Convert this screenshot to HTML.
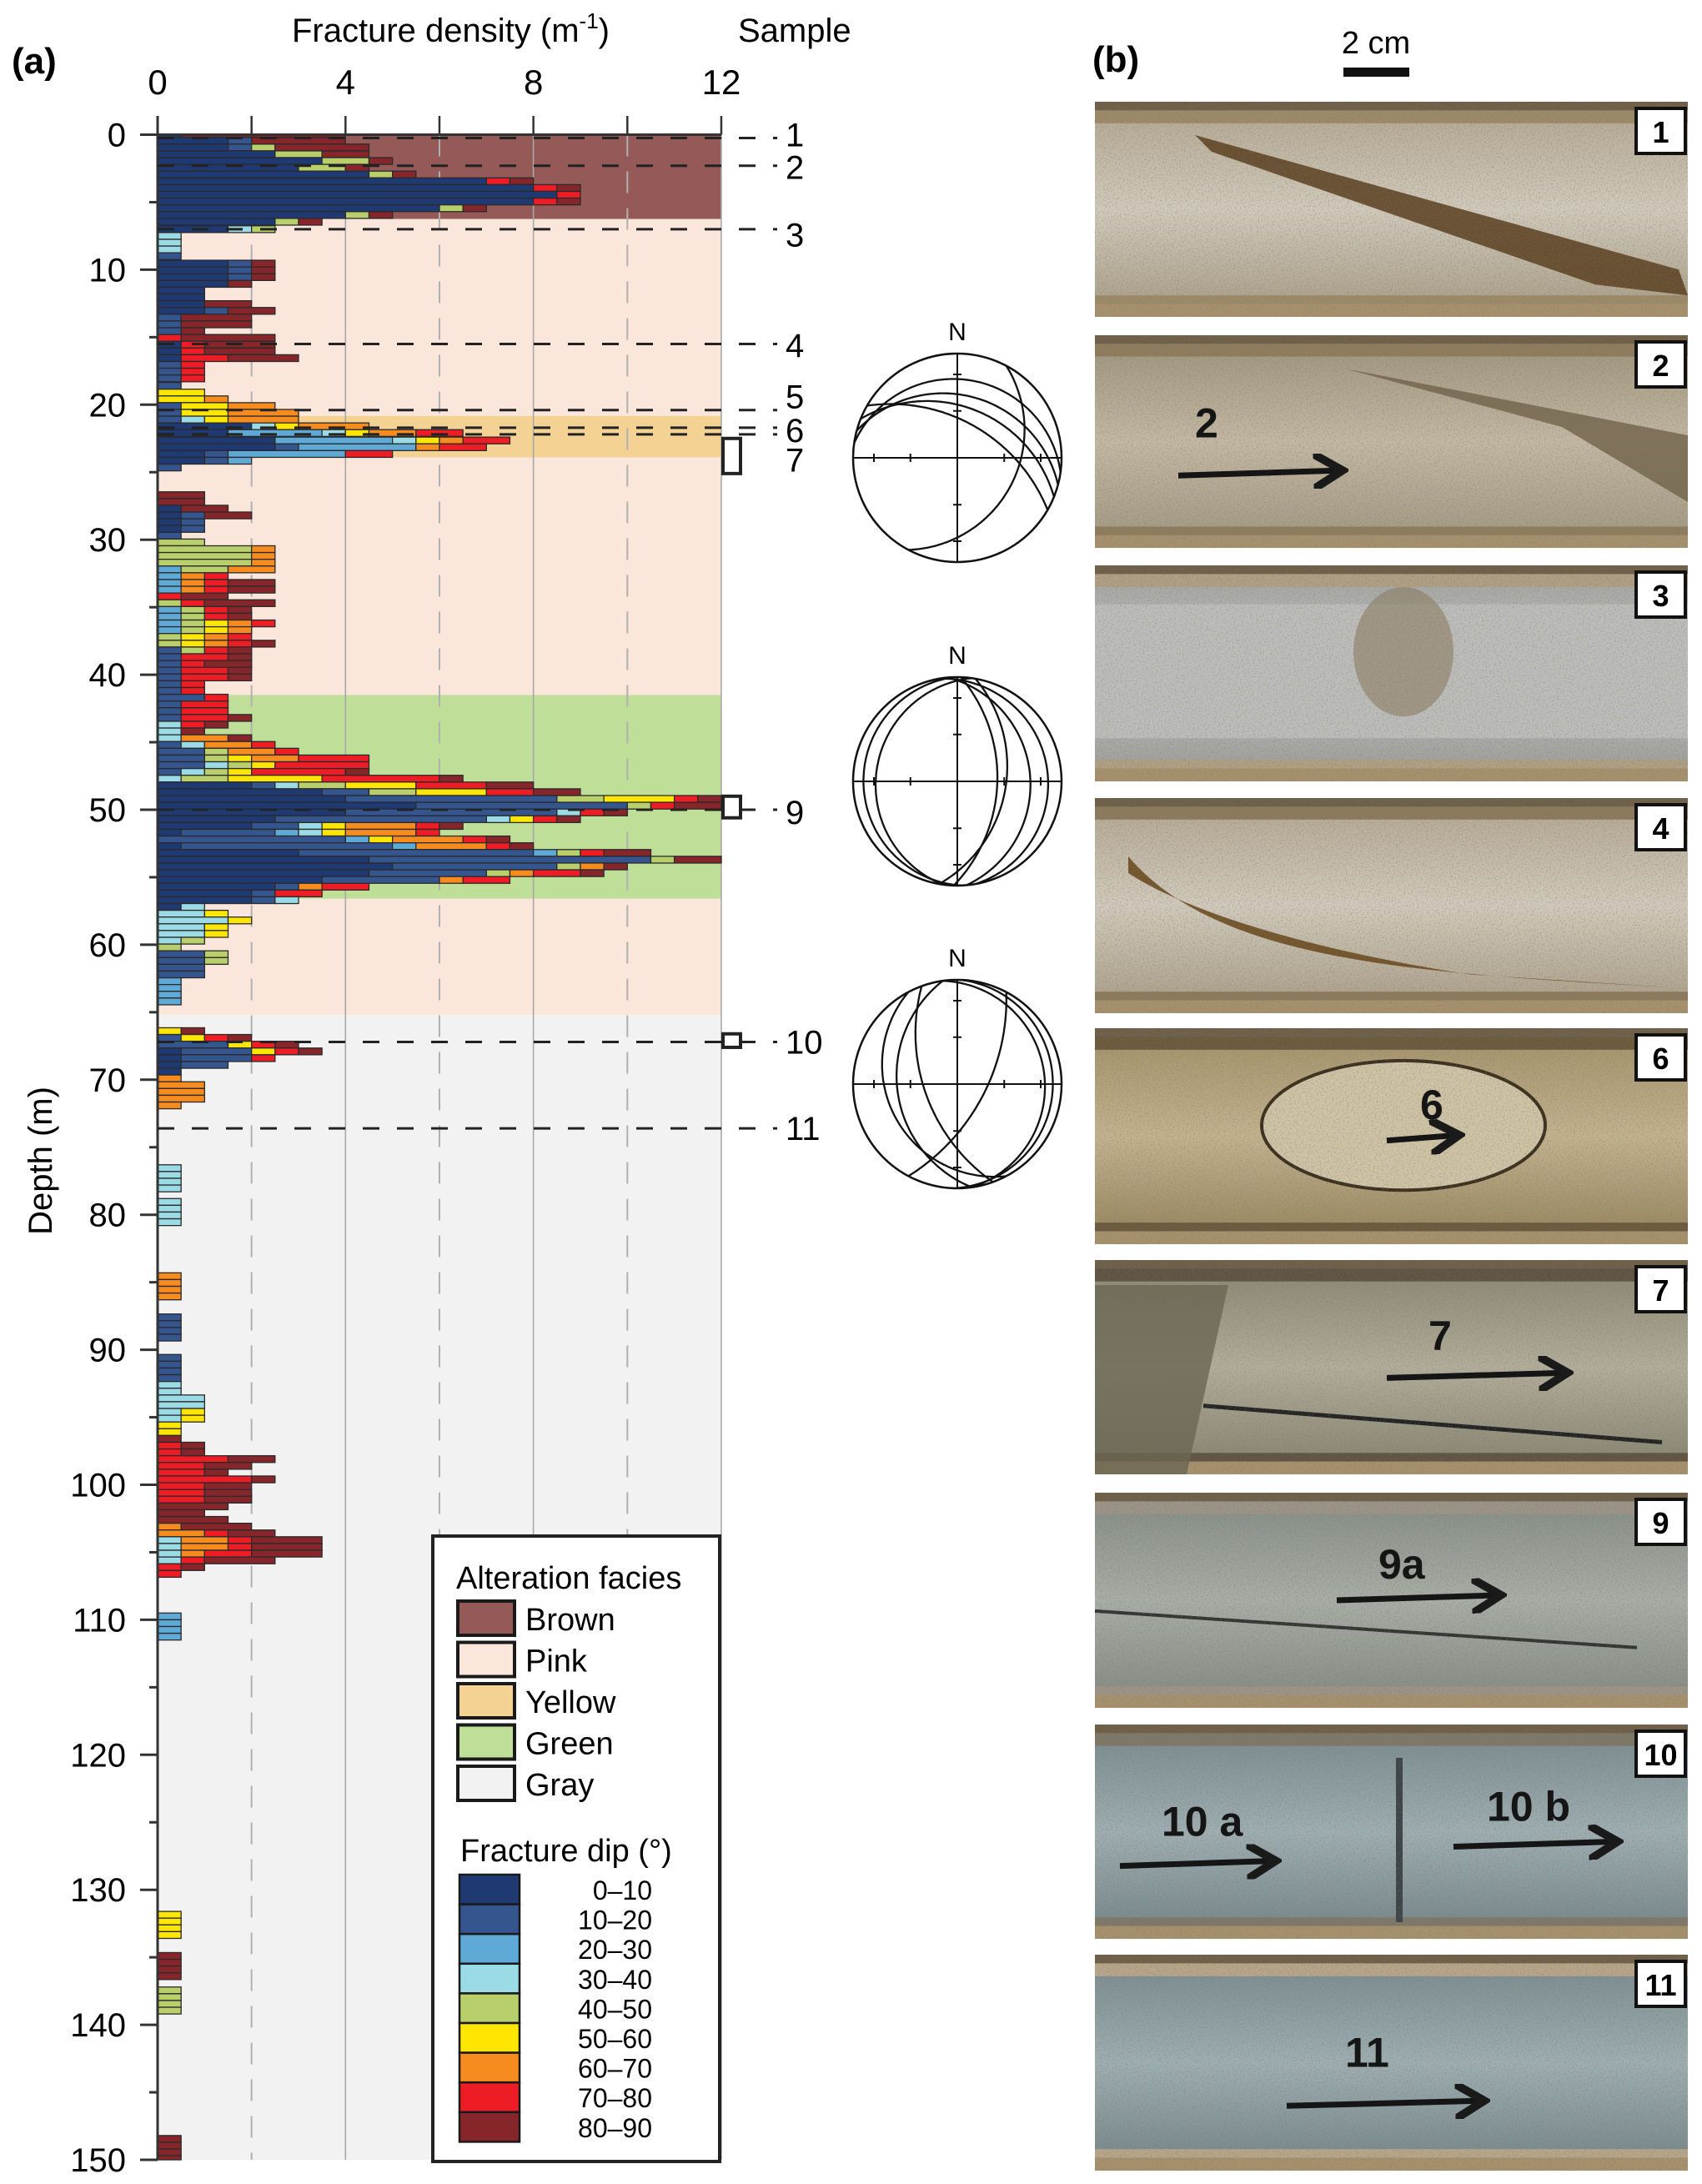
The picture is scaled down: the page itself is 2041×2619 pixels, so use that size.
<!DOCTYPE html>
<html><head><meta charset="utf-8"><style>
html,body{margin:0;padding:0;background:#fff}
svg{display:block;font-family:"Liberation Sans",Arial,sans-serif}
</style></head><body>
<svg id="fig" width="2041" height="2619" viewBox="0 0 2041 2619" xmlns="http://www.w3.org/2000/svg">
<defs>
<linearGradient id="g1" x1="0" y1="0" x2="0" y2="1"><stop offset="0" stop-color="#b9ad98"/><stop offset="0.5" stop-color="#d2cbbd"/><stop offset="1" stop-color="#b0a58f"/></linearGradient>
<linearGradient id="g2" x1="0" y1="0" x2="0" y2="1"><stop offset="0" stop-color="#a59a82"/><stop offset="0.5" stop-color="#c4b9a3"/><stop offset="1" stop-color="#a89d86"/></linearGradient>
<linearGradient id="g3" x1="0" y1="0" x2="0" y2="1"><stop offset="0" stop-color="#a9aaa8"/><stop offset="0.5" stop-color="#c3c4c2"/><stop offset="1" stop-color="#a2a3a0"/></linearGradient>
<linearGradient id="g6" x1="0" y1="0" x2="0" y2="1"><stop offset="0" stop-color="#a8976f"/><stop offset="0.5" stop-color="#c3b48f"/><stop offset="1" stop-color="#9f8c66"/></linearGradient>
<linearGradient id="g7" x1="0" y1="0" x2="0" y2="1"><stop offset="0" stop-color="#8f8c78"/><stop offset="0.5" stop-color="#b3ae9c"/><stop offset="1" stop-color="#8d8a76"/></linearGradient>
<linearGradient id="g9" x1="0" y1="0" x2="0" y2="1"><stop offset="0" stop-color="#8b918b"/><stop offset="0.5" stop-color="#a9aea8"/><stop offset="1" stop-color="#8a8f88"/></linearGradient>
<linearGradient id="g10" x1="0" y1="0" x2="0" y2="1"><stop offset="0" stop-color="#7f9095"/><stop offset="0.5" stop-color="#9fafb3"/><stop offset="1" stop-color="#7c8c90"/></linearGradient>
<filter id="speckle" x="0" y="0" width="100%" height="100%">
<feTurbulence type="fractalNoise" baseFrequency="0.55" numOctaves="2" seed="3" result="n"/>
<feColorMatrix in="n" type="matrix" values="0 0 0 0 0.2  0 0 0 0 0.18  0 0 0 0 0.15  -2.2 0 0 0 1.15"/>
</filter>
<marker id="ah" markerWidth="6" markerHeight="6" refX="4" refY="3" orient="auto"><path d="M0,0 L5,3 L0,6" fill="none" stroke="#1a1a1a" stroke-width="1.4"/></marker>
</defs>
<g id="facies"></g>
<g id="grid"></g>
<g id="bars"></g>
<g id="axes"></g>
<g id="samples"></g>
<g id="nets"></g>
<g id="photos"></g>

<text x="14" y="88" font-size="44" font-weight="bold">(a)</text>
<text x="350" y="50" font-size="40">Fracture density (m<tspan font-size="26" dy="-16">-1</tspan><tspan dy="16">)</tspan></text>
<text x="885" y="50" font-size="40">Sample</text>
<text transform="translate(62,1392) rotate(-90)" text-anchor="middle" font-size="40">Depth (m)</text>
<text x="1310" y="86" font-size="44" font-weight="bold">(b)</text>
<text x="1650" y="64" font-size="38" text-anchor="middle">2 cm</text>
<rect x="1611" y="81" width="79" height="11" fill="#111"/>

<g>
<rect x="519" y="1842" width="344" height="750" fill="#fff" stroke="#222" stroke-width="4"/>
<text x="547" y="1905" font-size="38">Alteration facies</text>
<g id="faciesLegend"></g>
<text x="552" y="2232" font-size="38">Fracture dip (°)</text>
<g id="dipLegend"></g>
</g>

<script>
// ---------- data ----------
const dipColors = ['#1f3a73','#34558e','#5ea9d6','#9adbe6','#b8cf6c','#ffe600','#f68b1f','#ee1c25','#86262a'];
const dipLabels = ['0–10','10–20','20–30','30–40','40–50','50–60','60–70','70–80','80–90'];
const xTicks = [0,4,8,12];
const yTicks = [0,10,20,30,40,50,60,70,80,90,100,110,120,130,140,150];
const faciesNames = ['Brown','Pink','Yellow','Green','Gray'];
const faciesColors = ['#955a58','#fbe6dc','#f3d293','#bfdf98','#f2f2f2'];
const faciesTop =    [0, 6.25, 20.83, 23.9, 41.5, 56.6, 65.2];
const faciesBottom = [6.25, 20.83, 23.9, 41.5, 56.6, 65.2, 150];
const faciesKind =   [0, 1, 2, 1, 3, 1, 4];
const binSize = 0.5;
const binDepth = [
-0.3,0.2,0.7,1.2,1.7,2.2,2.7,3.2,3.7,4.2,4.7,5.2,5.7,6.2,6.75,7.25,7.75,8.25,8.75,9.3,9.8,10.3,10.8,11.3,11.8,12.3,12.8,13.3,13.8,14.3,14.8,15.3,15.8,16.3,16.8,17.3,17.8,18.35,18.85,19.35,19.85,20.35,20.85,21.35,21.85,22.4,22.9,23.4,23.9,24.4,
26.45,26.95,27.45,27.95,28.45,28.95,29.45,29.95,30.45,30.95,31.45,31.95,32.45,32.95,33.45,33.95,34.45,34.95,35.45,35.95,36.45,36.95,37.45,37.95,38.45,38.95,39.45,39.95,40.45,40.95,41.45,41.95,42.45,42.95,43.45,43.95,44.45,44.95,45.45,45.95,46.45,46.95,47.45,47.95,48.45,48.95,49.45,49.95,50.45,50.95,51.45,51.95,52.45,52.95,53.45,53.95,54.45,54.95,55.45,55.95,56.45,56.95,57.45,57.95,58.45,
58.95,59.45,59.95,60.45,60.95,61.45,61.95,62.45,62.95,63.45,63.95,
66.15,66.65,67.15,67.65,68.15,68.65,69.15,69.65,70.15,70.65,71.15,71.65,
76.3,76.8,77.3,77.8,78.8,79.3,79.8,80.3,84.3,84.8,85.3,85.8,87.35,87.85,88.35,88.85,
90.35,90.85,91.35,91.85,92.35,92.85,93.35,93.85,94.35,94.85,95.35,95.85,96.35,96.85,97.35,97.85,98.35,98.85,99.35,99.85,100.35,100.85,101.35,101.85,102.35,102.85,103.35,103.85,104.35,104.85,105.35,105.85,106.35,
109.5,110,110.5,111,131.6,132.1,132.6,133.1,134.65,135.15,135.65,136.15,137.2,137.7,138.2,138.7,148.2,148.7,149.2,149.7];
const binCounts = [
[0.5,0,0,0,0,0,0,0,3.5],[1.5,.5,0,0,0,0,0,0,2],[1.5,.5,0,0,.5,0,0,0,2],[2.5,0,0,0,1,0,0,0,1],[3.5,0,0,0,1,0,0,0,.5],[3,0,0,0,1,0,0,0,.5],[4.5,0,0,0,.5,0,0,0,.5],[7,0,0,0,0,0,0,.5,.5],[8,0,0,0,0,0,0,.5,.5],[8.5,0,0,0,0,0,0,.5,0],[8,0,0,0,0,0,0,.5,.5],[6,0,0,0,.5,0,0,0,.5],[4,0,0,0,.5,0,0,0,.5],[2.5,0,0,0,.5,0,0,0,.5],[1.5,0,0,.5,.5,0,0,0,0],[0,0,0,.5,0,0,0,0,0],[0,0,0,.5,0,0,0,0,0],[0,0,0,.5,0,0,0,0,0],[0,.5,0,0,0,0,0,0,0],[1.5,.5,0,0,0,0,0,0,.5],[1.5,.5,0,0,0,0,0,0,.5],[1.5,.5,0,0,0,0,0,0,.5],[1.5,0,0,0,0,0,0,0,.5],[1,0,0,0,0,0,0,0,0],[1,0,0,0,0,0,0,0,0],[1,0,0,0,0,0,0,0,1],[1,.5,0,0,0,0,0,0,1],[0,.5,0,0,0,0,0,0,1.5],[0,.5,0,0,0,0,0,0,1.5],[0,.5,0,0,0,0,0,0,.5],[0,0,0,0,0,0,0,.5,2],[.5,0,0,0,0,0,0,.5,1.5],[.5,0,0,0,0,0,0,.5,1.5],[.5,0,0,0,0,0,0,1,1.5],[0,.5,0,0,0,0,0,.5,0],[0,.5,0,0,0,0,0,.5,0],[0,.5,0,0,0,0,0,.5,0],[0,.5,0,0,0,0,0,0,0],[0,0,0,0,0,1,0,0,0],[0,0,0,0,0,1,.5,0,0],[0,.5,0,0,0,1,1,0,0],[0,.5,0,0,0,1,1.5,0,0],[0,.5,0,.5,0,.5,1.5,0,0],[2,0,0,.5,0,.5,1.5,0,0],[1.5,0,2,.5,0,.5,1,1,0],[2.5,0,2.5,.5,0,.5,.5,1,0],[2.5,.5,2.5,0,0,0,.5,1,0],[1,.5,2.5,0,0,0,0,1,0],[1,.5,.5,0,0,0,0,0,0],[0,.5,0,0,0,0,0,0,0],
[0,0,0,0,0,0,0,0,1],[0,0,0,0,0,0,0,0,1],[.5,0,0,0,0,0,0,0,1],[.5,.5,0,0,0,0,0,0,1],[.5,.5,0,0,0,0,0,0,0],[.5,.5,0,0,0,0,0,0,0],[0,.5,0,0,0,0,0,0,0],[0,0,0,0,1,0,0,0,0],[0,0,0,0,2,0,.5,0,0],[0,0,0,0,2,0,.5,0,0],[0,0,0,0,2,0,.5,0,0],[0,0,.5,0,1,0,1,0,0],[0,0,.5,0,0,0,.5,.5,0],[0,0,.5,0,0,0,.5,.5,1],[0,0,.5,0,0,0,.5,.5,1],[0,0,0,0,0,0,0,.5,1],[0,0,0,0,.5,0,0,.5,1.5],[0,0,.5,0,.5,0,0,.5,.5],[0,0,.5,0,.5,0,0,.5,.5],[0,0,.5,0,.5,.5,.5,.5,0],[0,0,.5,0,.5,.5,.5,0,0],[0,0,0,0,.5,.5,.5,.5,0],[0,0,0,0,.5,.5,.5,.5,.5],[0,.5,0,0,.5,0,0,.5,.5],[0,.5,0,0,0,0,0,1,.5],[0,.5,0,0,0,0,0,.5,1],[0,.5,0,0,0,0,0,1,.5],[0,.5,0,0,0,0,0,1,.5],[0,.5,0,0,0,0,0,.5,0],[0,.5,0,0,0,0,0,.5,0],[0,1,0,0,0,0,0,.5,0],[0,.5,0,0,0,0,0,1,0],[0,.5,0,0,0,0,0,1,0],[0,.5,0,0,0,0,0,1,.5],[0,0,0,.5,0,0,0,.5,.5],[0,0,0,.5,0,0,0,0,.5],[0,0,0,.5,0,0,1,0,.5],[0,.5,0,.5,0,0,1,.5,0],[0,1,0,0,.5,0,1,.5,0],[0,1,0,0,.5,.5,1,1.5,0],[0,1,0,.5,.5,.5,0,2,0],[0,.5,0,.5,.5,.5,0,2,.5],[0,0,0,.5,1,2,0,2.5,.5],[2,.5,0,.5,1,1.5,0,1.5,1],[3.5,1,0,0,1,1.5,0,1,1],[4,4.5,0,0,1,1.5,0,.5,.5],[5.5,4.5,0,0,.5,0,0,.5,1],[4,4.5,0,.5,0,0,0,.5,.5],[2.5,4.5,0,.5,0,.5,0,.5,.5],[2,1,0,.5,0,.5,1.5,.5,.5],[.5,2,.5,.5,0,.5,1.5,.5,0],[0,4,.5,0,0,.5,1.5,.5,.5],[.5,4.5,.5,0,0,0,1.5,.5,.5],[3,5,.5,0,.5,0,0,.5,1],[4.5,6,0,0,.5,0,0,0,1],[5,3.5,0,0,.5,0,.5,0,.5],[4.5,2.5,0,0,.5,0,.5,1,.5],[3.5,2.5,0,0,0,0,.5,1,0],[2.5,.5,0,0,0,0,.5,1,0],[2,.5,0,0,0,0,0,1,0],[2,.5,0,.5,0,0,0,0,0],[.5,0,0,.5,0,0,0,0,0],[0,0,0,1,0,.5,0,0,0],[0,0,0,1.5,0,.5,0,0,0],[0,0,0,1,0,.5,0,0,0],
[0,0,0,1,0,.5,0,0,0],[0,0,0,.5,.5,0,0,0,0],[0,0,0,0,.5,0,0,0,0],[0,1,0,0,.5,0,0,0,0],[0,1,0,0,.5,0,0,0,0],[0,1,0,0,0,0,0,0,0],[0,1,0,0,0,0,0,0,0],[0,0,.5,0,0,0,0,0,0],[0,0,.5,0,0,0,0,0,0],[0,0,.5,0,0,0,0,0,0],[0,0,.5,0,0,0,0,0,0],
[0,0,0,0,0,.5,0,0,.5],[0,.5,0,0,0,.5,0,.5,.5],[0,1.5,0,0,0,.5,0,.5,.5],[.5,1.5,0,0,0,.5,0,.5,.5],[.5,1.5,0,0,0,0,0,.5,0],[.5,1,0,0,0,0,0,0,0],[.5,0,0,0,0,0,0,0,0],[0,0,0,0,0,0,.5,0,0],[0,0,0,0,0,0,1,0,0],[0,0,0,0,0,0,1,0,0],[0,0,0,0,0,0,1,0,0],[0,0,0,0,0,0,.5,0,0],
[0,0,0,.5,0,0,0,0,0],[0,0,0,.5,0,0,0,0,0],[0,0,0,.5,0,0,0,0,0],[0,0,0,.5,0,0,0,0,0],[0,0,0,.5,0,0,0,0,0],[0,0,0,.5,0,0,0,0,0],[0,0,0,.5,0,0,0,0,0],[0,0,0,.5,0,0,0,0,0],[0,0,0,0,0,0,.5,0,0],[0,0,0,0,0,0,.5,0,0],[0,0,0,0,0,0,.5,0,0],[0,0,0,0,0,0,.5,0,0],[0,.5,0,0,0,0,0,0,0],[0,.5,0,0,0,0,0,0,0],[0,.5,0,0,0,0,0,0,0],[0,.5,0,0,0,0,0,0,0],
[0,.5,0,0,0,0,0,0,0],[0,.5,0,0,0,0,0,0,0],[0,.5,0,0,0,0,0,0,0],[0,.5,0,0,0,0,0,0,0],[0,0,0,.5,0,0,0,0,0],[0,0,0,.5,0,0,0,0,0],[0,0,0,1,0,0,0,0,0],[0,0,0,1,0,0,0,0,0],[0,0,0,.5,0,.5,0,0,0],[0,0,0,.5,0,.5,0,0,0],[0,0,0,0,0,.5,0,0,0],[0,0,0,0,0,.5,0,0,0],[0,0,0,0,0,0,0,0,.5],[0,0,0,0,0,0,0,.5,.5],[0,0,0,0,0,0,0,.5,.5],[0,0,0,0,0,0,0,1.5,1],[0,0,0,0,0,0,0,1,1],[0,0,0,0,0,0,0,1,.5],[0,0,0,0,0,0,0,2,.5],[0,0,0,0,0,0,0,1,1],[0,0,0,0,0,0,0,1,1],[0,0,0,0,0,0,0,1,1],[0,0,0,0,0,0,0,0,1.5],[0,0,0,0,0,0,0,0,1],[0,0,0,0,0,0,0,0,1.5],[0,0,0,0,0,0,.5,0,1.5],[0,0,0,0,0,0,1,.5,1],[0,0,0,.5,0,0,1,.5,1.5],[0,0,0,.5,0,0,1,.5,1.5],[0,0,0,.5,0,0,.5,1,1.5],[0,0,0,.5,0,0,0,.5,1.5],[0,0,0,0,0,0,0,.5,.5],[0,0,0,0,0,0,0,.5,0],
[0,0,.5,0,0,0,0,0,0],[0,0,.5,0,0,0,0,0,0],[0,0,.5,0,0,0,0,0,0],[0,0,.5,0,0,0,0,0,0],[0,0,0,0,0,.5,0,0,0],[0,0,0,0,0,.5,0,0,0],[0,0,0,0,0,.5,0,0,0],[0,0,0,0,0,.5,0,0,0],[0,0,0,0,0,0,0,0,.5],[0,0,0,0,0,0,0,0,.5],[0,0,0,0,0,0,0,0,.5],[0,0,0,0,0,0,0,0,.5],[0,0,0,0,.5,0,0,0,0],[0,0,0,0,.5,0,0,0,0],[0,0,0,0,.5,0,0,0,0],[0,0,0,0,.5,0,0,0,0],[0,0,0,0,0,0,0,0,.5],[0,0,0,0,0,0,0,0,.5],[0,0,0,0,0,0,0,0,.5],[0,0,0,0,0,0,0,0,.5]];
const sampleNames = ['1','2','3','4','5','6','7','9','10','11'];
const sampleDepth = [0.25,2.3,7.0,15.5,20.4,21.7,null,50.0,67.2,73.6];
const sampleLabelY = [0,2.4,7.4,15.6,19.4,21.9,24.1,50.2,67.2,73.6];
const sampleBoxTop = [null,null,null,null,null,null,22.5,49.0,66.6,null];
const sampleBoxBot = [null,null,null,null,null,null,25.1,50.6,67.6,null];
const extraDashDepth = [22.2];
const net1DipDir = [8,15,22,30,118];
const net1Dip = [16,28,38,52,30];
const net2DipDir = [268,278,92,100,85,80];
const net2Dip = [6,14,48,40,20,8];
const net3DipDir = [250,118,242,82,92,262];
const net3Dip = [55,60,22,10,5,30];

// ---------- helpers ----------
const NS='http://www.w3.org/2000/svg';
function mk(tag, attrs, parent){const e=document.createElementNS(NS,tag);for(const k in attrs)e.setAttribute(k,attrs[k]);parent.appendChild(e);return e;}
const X0=189, XU=56.33, Y0=161.5, YU=16.19;
const xs = v => X0 + v*XU;
const ys = d => Y0 + d*YU;
const $ = id => document.getElementById(id);

faciesTop.forEach((t,i)=>{
  const r=mk('rect',{x:X0,y:ys(t),width:xs(12)-X0,height:ys(faciesBottom[i])-ys(t),fill:faciesColors[faciesKind[i]]},$('facies'));
  
  
});
for(let v=2; v<=12; v+=2){
  const solid = v%4===0;
  const l=mk('line',{x1:xs(v),x2:xs(v),y1:ys(0),y2:ys(150),stroke:solid?'#a8a8a8':'#b0b0b0','stroke-width':solid?1.6:2,'stroke-dasharray':solid?'none':'26 18'},$('grid'));
  
  
}
binDepth.forEach((d,i)=>{
  const top=Math.max(d,0), bot=Math.min(d+binSize,150);
  let acc=0;
  binCounts[i].forEach((c,k)=>{
    if(c<=0) return;
    const r=mk('rect',{x:xs(acc),y:ys(top),width:xs(acc+c)-xs(acc),height:ys(bot)-ys(top),fill:dipColors[k],stroke:'#2a2a2a','stroke-width':1.3},$('bars'));
    
    
    acc+=c;
  });
});
const ax=$('axes');
mk('line',{x1:X0,x2:X0,y1:139,y2:ys(150),stroke:'#333','stroke-width':3},ax);
mk('line',{x1:168,x2:xs(12),y1:ys(0),y2:ys(0),stroke:'#333','stroke-width':3},ax);
for(let v=0; v<=12; v+=2) mk('line',{x1:xs(v),x2:xs(v),y1:139,y2:ys(0),stroke:'#333','stroke-width':2.5},ax);
xTicks.forEach(v=>{
  const t=mk('text',{x:xs(v),y:113,'font-size':42,'text-anchor':'middle'},ax); t.textContent=v;
   
});
yTicks.forEach(v=>{
  mk('line',{x1:168,x2:X0,y1:ys(v),y2:ys(v),stroke:'#333','stroke-width':3},ax);
  const t=mk('text',{x:151,y:ys(v)+14,'font-size':40,'text-anchor':'end'},ax); t.textContent=v;
   
});
for(let v=5; v<150; v+=10) mk('line',{x1:179,x2:X0,y1:ys(v),y2:ys(v),stroke:'#333','stroke-width':3},ax);

const sg=$('samples');
sampleNames.forEach((n,i)=>{
  const d=sampleDepth[i];
  if(d!==null){
    const l=mk('line',{x1:X0,x2:932,y1:ys(d),y2:ys(d),stroke:'#222','stroke-width':3,'stroke-dasharray':'20 21'},sg);
     
  }
  if(sampleBoxTop[i]!==null){
    const b=mk('rect',{x:867,y:ys(sampleBoxTop[i]),width:21,height:ys(sampleBoxBot[i])-ys(sampleBoxTop[i]),fill:'#fff',stroke:'#222','stroke-width':4},sg);
     
  }
  const t=mk('text',{x:942,y:ys(sampleLabelY[i])+14,'font-size':40},sg); t.textContent=n;
   
});
extraDashDepth.forEach(d=>{
  const l=mk('line',{x1:X0,x2:932,y1:ys(d),y2:ys(d),stroke:'#222','stroke-width':3,'stroke-dasharray':'20 21'},sg);
   
});

function drawNet(cx,cy,R,dirs,dips,idx){
  const g=mk('g',{},$('nets'));
   
  mk('circle',{cx:cx,cy:cy,r:R,fill:'#fff',stroke:'#111','stroke-width':2.5},g);
  mk('line',{x1:cx-R,x2:cx+R,y1:cy,y2:cy,stroke:'#111','stroke-width':2},g);
  mk('line',{x1:cx,x2:cx,y1:cy-R,y2:cy+R,stroke:'#111','stroke-width':2},g);
  [-0.8,-0.45,0.45,0.8].forEach(f=>{
    mk('line',{x1:cx+f*R,x2:cx+f*R,y1:cy-5,y2:cy+5,stroke:'#111','stroke-width':2},g);
    mk('line',{x1:cx-5,x2:cx+5,y1:cy+f*R,y2:cy+f*R,stroke:'#111','stroke-width':2},g);
  });
  const n=mk('text',{x:cx,y:cy-R-16,'font-size':30,'text-anchor':'middle'},g); n.textContent='N';
   
  dirs.forEach((a,i)=>{
    const ar=a*Math.PI/180, dr=dips[i]*Math.PI/180;
    const s=[Math.sin(ar-Math.PI/2),Math.cos(ar-Math.PI/2),0];
    const dv=[Math.sin(ar)*Math.cos(dr),Math.cos(ar)*Math.cos(dr),Math.sin(dr)];
    let p='';
    for(let k=0;k<=90;k++){
      const th=Math.PI*k/90;
      const v=[0,1,2].map(j=>Math.cos(th)*s[j]+Math.sin(th)*dv[j]);
      const pl=Math.asin(Math.max(-1,Math.min(1,v[2]))), tr=Math.atan2(v[0],v[1]);
      const r=R*Math.tan((Math.PI/2-pl)/2);
      p+=(k?'L':'M')+(cx+r*Math.sin(tr)).toFixed(1)+','+(cy-r*Math.cos(tr)).toFixed(1);
    }
    const e=mk('path',{d:p,fill:'none',stroke:'#111','stroke-width':2.3},g);
     
  });
}
drawNet(1148,549,125,net1DipDir,net1Dip,1);
drawNet(1148,937,125,net2DipDir,net2Dip,2);
drawNet(1148,1300,125,net3DipDir,net3Dip,3);

faciesNames.forEach((n,i)=>{
  const y=1920+i*49.5;
  const r=mk('rect',{x:549,y:y,width:68,height:41,fill:faciesColors[i],stroke:'#1a1a1a','stroke-width':4},$('faciesLegend'));
   
  const t=mk('text',{x:630,y:y+35,'font-size':38},$('faciesLegend')); t.textContent=n;
   
});
dipLabels.forEach((n,i)=>{
  const y=2248+i*35.6;
  const r=mk('rect',{x:551,y:y,width:72,height:35.6,fill:dipColors[i],stroke:'#1a1a1a','stroke-width':2.5},$('dipLegend'));
   
  const t=mk('text',{x:782,y:y+30,'font-size':32,'text-anchor':'end'},$('dipLegend')); t.textContent=n;
   
});

// photos
const photoNames=['1','2','3','4','6','7','9','10','11'];
const photoTop=[122,402,678,957,1233,1511,1790,2068,2344];
const photoBot=[380,657,937,1215,1492,1768,2048,2325,2603];
const photoFill=['url(#g1)','url(#g2)','url(#g3)','url(#g1)','url(#g6)','url(#g7)','url(#g9)','url(#g10)','url(#g10)'];
const frameCol=['#9d8a68','#8f7c5c','#b0a084','#8c7a5c','#6b5a3c','#5f5443','#9c9486','#7e7868','#b7a68a'];
const PX=1313, PW=711;
function hand(g,txt,x,y,ax1,ax2,ay){
  const tx=mk('text',{x:x,y:y,'font-size':50,'font-weight':'bold',fill:'#151515'},g);
  tx.textContent=txt;
   
  const l=mk('line',{x1:ax1,y1:ay,x2:ax2,y2:ay-6,stroke:'#151515','stroke-width':7,'marker-end':'url(#ah)'},g);
   
}
photoNames.forEach((n,i)=>{
  const t=photoTop[i], h=photoBot[i]-t;
  const g=mk('g',{},$('photos'));
   
  mk('rect',{x:PX,y:t,width:PW,height:h,fill:frameCol[i]},g);
  mk('rect',{x:PX,y:t+h*0.1,width:PW,height:h*0.8,fill:photoFill[i]},g);
  mk('rect',{x:PX,y:t,width:PW,height:h*0.04,fill:'#6e5f48'},g);
  mk('rect',{x:PX,y:t+h*0.94,width:PW,height:h*0.06,fill:'#a6916c'},g);
  if(n==='1') mk('path',{d:`M${PX+120},${t+40} L${PX+700},${t+h*0.78} L${PX+711},${t+h*0.9} L${PX+600},${t+h*0.85} L${PX+140},${t+60} Z`,fill:'#5e4423',opacity:0.9},g);
  if(n==='4') mk('path',{d:`M${PX+40},${t+70} C${PX+150},${t+200} ${PX+400},${t+210} ${PX+690},${t+h*0.88} L${PX+450},${t+h*0.82} C${PX+280},${t+h*0.72} ${PX+120},${t+h*0.55} ${PX+40},${t+90} Z`,fill:'#6a4a1e',opacity:0.9},g);
  if(n==='2') mk('path',{d:`M${PX+300},${t+40} L${PX+711},${t+120} L${PX+711},${t+200} L${PX+560},${t+110} Z`,fill:'#6f6148',opacity:0.8},g);
  if(n==='3'){ mk('rect',{x:PX,y:t+h*0.18,width:PW,height:h*0.62,fill:'#bdbebc'},g); mk('ellipse',{cx:PX+370,cy:t+h*0.4,rx:60,ry:h*0.3,fill:'#8c7d62',opacity:0.6},g); }
  if(n==='6') mk('ellipse',{cx:PX+370,cy:t+h*0.45,rx:170,ry:h*0.3,fill:'#cfc4a6',stroke:'#3b2f1e','stroke-width':4},g);
  if(n==='7'){ mk('path',{d:`M${PX},${t+30} L${PX+160},${t+30} L${PX+110},${t+h} L${PX},${t+h} Z`,fill:'#6a6550',opacity:0.8},g);
    mk('path',{d:`M${PX+130},${t+h*0.68} L${PX+680},${t+h*0.85}`,stroke:'#222','stroke-width':5,fill:'none'},g); }
  if(n==='9') mk('path',{d:`M${PX},${t+h*0.55} L${PX+650},${t+h*0.72}`,stroke:'#333','stroke-width':4,fill:'none'},g);
  if(n==='10') mk('line',{x1:PX+365,y1:t+40,x2:PX+365,y2:t+h-20,stroke:'#3c4448','stroke-width':8},g);
  mk('rect',{x:PX,y:t,width:PW,height:h,filter:'url(#speckle)',opacity:0.55},g);
  if(n==='2') hand(g,'2',PX+120,t+h*0.48,PX+100,PX+290,t+h*0.66);
  if(n==='6') hand(g,'6',PX+390,t+h*0.42,PX+350,PX+430,t+h*0.52);
  if(n==='7') hand(g,'7',PX+400,t+h*0.42,PX+350,PX+560,t+h*0.55);
  if(n==='9') hand(g,'9a',PX+340,t+h*0.4,PX+290,PX+480,t+h*0.5);
  if(n==='10'){ hand(g,'10 a',PX+80,t+h*0.52,PX+30,PX+210,t+h*0.66); hand(g,'10 b',PX+470,t+h*0.45,PX+430,PX+620,t+h*0.57); }
  if(n==='11') hand(g,'11',PX+300,t+h*0.52,PX+230,PX+460,t+h*0.7);
  const b=mk('rect',{x:1962,y:t+8,width:59,height:54,fill:'#fff',stroke:'#111','stroke-width':4},g);
   
  const nt=mk('text',{x:1991.5,y:t+49,'font-size':36,'font-weight':'bold','text-anchor':'middle'},g); nt.textContent=n;
   
});
</script>
</svg>
</body></html>
